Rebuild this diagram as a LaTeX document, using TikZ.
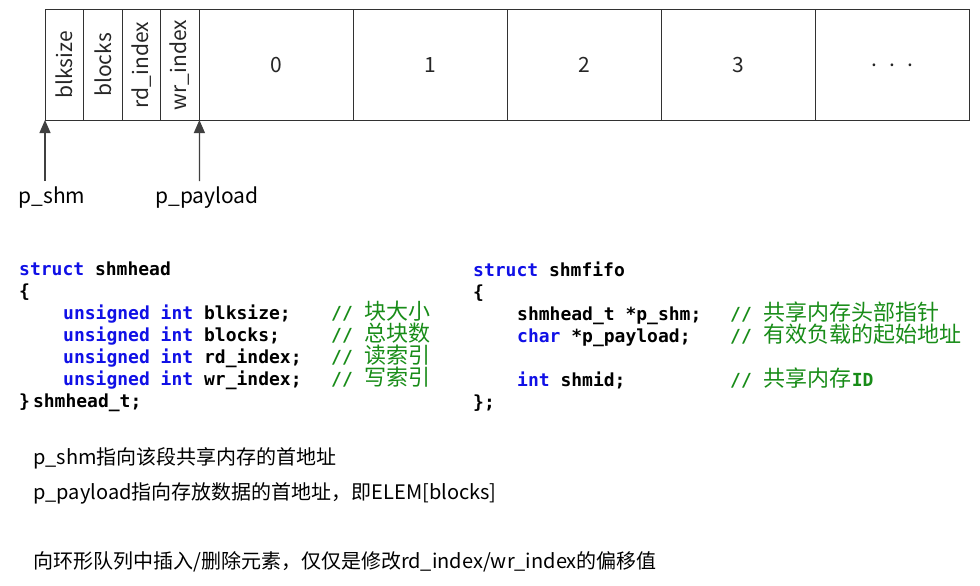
\documentclass[tikz,border=0pt]{standalone}
\usepackage{fontspec}
\setmainfont{Noto Sans CJK SC}
\setmonofont{DejaVu Sans Mono}
\newfontfamily\cjk{Noto Sans CJK SC}
\usetikzlibrary{positioning,arrows.meta}
\definecolor{kwblue}{RGB}{16,16,230}
\definecolor{cmtgreen}{RGB}{24,140,24}
\definecolor{boxline}{RGB}{50,50,50}
\definecolor{ptrgray}{RGB}{64,64,64}
\newcommand{\kw}[1]{\textcolor{kwblue}{#1}}
\newcommand{\codeln}[3]{\makebox[#1][l]{#2}\textcolor{cmtgreen}{//}\hspace{12pt}{\cjk\mdseries\fontsize{22}{24}\selectfont\color{cmtgreen}#3}}

\begin{document}
\begin{tikzpicture}[x=1pt, y=-1pt,
  cell/.style={draw=boxline, line width=1pt, minimum height=110pt, inner sep=0pt, outer sep=0pt,
    font=\fontsize{21}{24}\selectfont, text=black!85},
  small/.style={cell, minimum width=38.6pt},
  wide/.style={cell, minimum width=154pt},
  ptr/.style={draw=ptrgray, line width=1.2pt, -{Triangle[width=11pt,length=13pt]}},
  code/.style={anchor=base west, inner sep=0pt, font=\ttfamily\bfseries\fontsize{18}{20}\selectfont},
  note/.style={anchor=west, inner sep=0pt, font=\fontsize{20}{24}\selectfont}]
  \useasboundingbox (0,0) rectangle (980,586);

  % shared memory layout
  \node[small, anchor=north west] (cblk) at (45,10) {\rotatebox{90}{blksize}};
  \node[small, right=0pt of cblk] (cblocks) {\rotatebox{90}{blocks}};
  \node[small, right=0pt of cblocks] (crd) {\rotatebox{90}{rd\_index}};
  \node[small, right=0pt of crd] (cwr) {\rotatebox{90}{wr\_index}};
  \node[wide, right=0pt of cwr] (c0) {0};
  \node[wide, right=0pt of c0] (c1) {1};
  \node[wide, right=0pt of c1] (c2) {2};
  \node[wide, right=0pt of c2] (c3) {3};
  \node[wide, right=0pt of c3] (cdots) {.\hspace{12pt}.\hspace{12pt}.};

  % pointers
  \coordinate (shmtail) at (45,181);
  \coordinate (paytail) at (199.4,181);
  \draw[ptr] (shmtail) -- (cblk.south west);
  \draw[ptr] (paytail) -- (c0.south west);
  \node[anchor=north, inner sep=0pt, font=\fontsize{21}{24}\selectfont] (lshm) at (52,187) {p\_shm};
  \node[anchor=north, inner sep=0pt, font=\fontsize{21}{24}\selectfont] (lpay) at (207,187) {p\_payload};

  % struct shmhead
  \node[code] (hhead) at (19,275) {\kw{struct} shmhead};
  \node[code] (hopen) at (19,297) {\{};
  \node[code] (hblk) at (63,319) {\codeln{268pt}{\kw{unsigned int} blksize;}{块大小}};
  \node[code] (hblocks) at (63,341) {\codeln{268pt}{\kw{unsigned int} blocks;}{总块数}};
  \node[code] (hrd) at (63,363) {\codeln{268pt}{\kw{unsigned int} rd\_index;}{读索引}};
  \node[code] (hwr) at (63,385) {\codeln{268pt}{\kw{unsigned int} wr\_index;}{写索引}};
  \node[code] (hclose) at (19,407) {\}\hspace{3pt}shmhead\_t;};

  % struct shmfifo
  \node[code] (fhead) at (473,276) {\kw{struct} shmfifo};
  \node[code] (fopen) at (473,298) {\{};
  \node[code] (fshm) at (517,320) {\codeln{213pt}{shmhead\_t *p\_shm;}{共享内存头部指针}};
  \node[code] (fpay) at (517,342) {\codeln{213pt}{\kw{char} *p\_payload;}{有效负载的起始地址}};
  \node[code] (fid) at (517,386) {\codeln{213pt}{\kw{int} shmid;}{共享内存{\ttfamily\bfseries\fontsize{18}{20}\selectfont ID}}};
  \node[code] (fclose) at (473,408) {\};};

  % notes
  \node[note] (nshm) at (33,458) {p\_shm指向该段共享内存的首地址};
  \node[note] (npay) at (33,493) {p\_payload指向存放数据的首地址，即ELEM[blocks]};
  \node[note] (nring) at (33,562) {向环形队列中插入/删除元素，仅仅是修改rd\_index/wr\_index的偏移值};
\end{tikzpicture}
\end{document}
